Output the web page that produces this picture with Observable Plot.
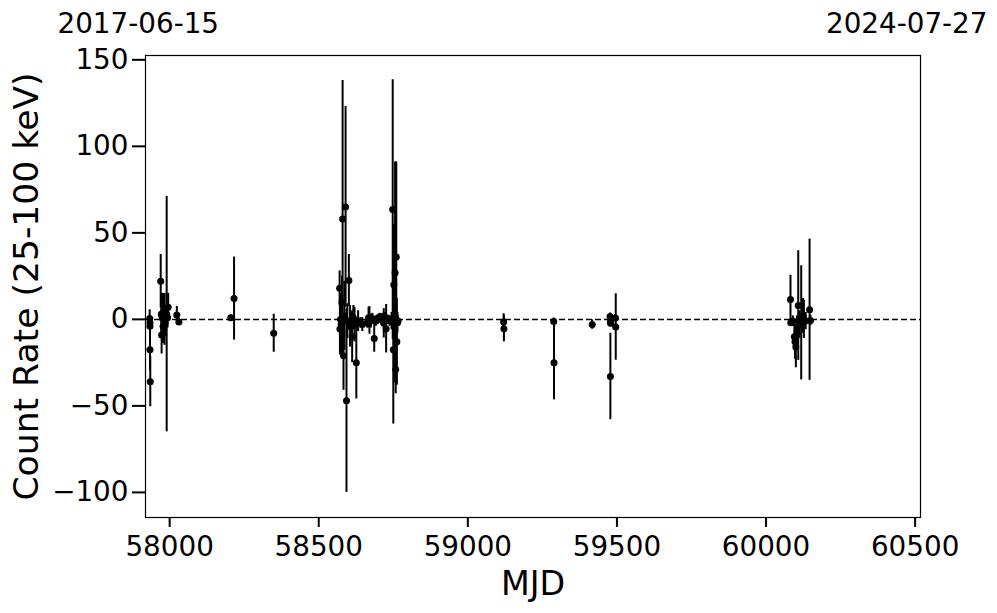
<!DOCTYPE html>
<html>
<head>
<meta charset="utf-8">
<script src="https://cdn.jsdelivr.net/npm/d3@7"></script>
<script src="https://cdn.jsdelivr.net/npm/@observablehq/plot@0.6"></script>
<style>
  html, body { margin: 0; padding: 0; background: white; }
</style>
</head>
<body>
<div id="chart"></div>
<script>
// Observation epochs (MJD), count rate (25-100 keV) and 1-sigma errors
const mjd = [
  57933, 57934, 57934, 57934, 57935,
  57970, 57972, 57973, 57975, 57978, 57980, 57983, 57985, 57990, 57993, 57995,
  58024, 58031, 58205, 58216, 58349,
  58570, 58571, 58573, 58575, 58578, 58580, 58583, 58586, 58590, 58593, 58596, 58601,
  58605, 58608, 58612, 58616, 58620, 58626, 58632, 58640, 58646,
  58662, 58667, 58670, 58675, 58680, 58686, 58692, 58698, 58704, 58708, 58713, 58718, 58722, 58726, 58732, 58738,
  58744, 58748, 58750, 58752, 58754, 58756, 58758, 58760, 58762, 58764, 58766,
  59120, 59121, 59288, 59289, 59417, 59477, 59478, 59479, 59478, 59495, 59496,
  60082, 60083, 60090, 60095, 60097, 60100, 60104, 60108, 60112, 60118, 60124, 60127, 60133, 60146, 60149
];
const rate = [
  0.5, -2, -4, -17.5, -36,
  22, 3, -9, 1, -4, 5, 0, -2, 3, 1, 7,
  2.5, -1.5, 1, 12, -8,
  18, -5.6, 0, -3, 10, 58, -21, 2, 65, -47, -1, 22.5,
  -4, -2, -10, 1, -3, -25, -1, -2, -3,
  -2, 1, -0.6, -1, 0.5, -11, -1, 0.5, 1.5, 0, 1.5, -2.3, 1, -5.4, 0.5, -1,
  -1, 63.5, -17.5, 20, 0, 27, -29, 36, -13, -2, -1,
  -1.5, -5.4, -1.2, -25, -3, 1.7, -1.5, -2.3, -33, 0.8, -4.4,
  11.5, -2, -1, -10, -13, -16, -8, 8, -3, -2, 2, 0, -1, 5.6, -0.6
];
const err = [
  5, 4, 4, 12, 14.5,
  15.5, 12, 11, 14, 10, 10, 15, 8, 68, 6, 8,
  5, 2, 1.5, 24, 11,
  10, 15, 6, 18, 15, 80, 20, 20, 58, 53, 10, 15,
  12, 6, 15, 7, 10, 21, 6, 3, 4,
  3, 6, 8, 4, 3, 8, 3, 2, 2, 2, 2, 8.5, 3, 14, 2, 3,
  5, 75, 43, 35, 25, 64, 14, 55, 25, 6, 3,
  4.8, 7.6, 2, 21.5, 2.7, 2, 2, 2, 25, 2, 19.2,
  14, 2, 3, 8, 10, 12, 10, 31.7, 8, 33, 10, 11, 5, 40.8, 3
];
const xTicks = [58000, 58500, 59000, 59500, 60000, 60500];
const yTicks = [-100, -50, 0, 50, 100, 150];
const dateLabels = ["2017-06-15", "2024-07-27"];
const xDomain = [57919, 60518];
const yDomain = [-114.5, 152.5];
const xLabel = "MJD";
const yLabel = "Count Rate (25-100 keV)";

const data = mjd.map((m, i) => ({mjd: m, rate: rate[i], err: err[i]}));

const chart = Plot.plot({
  width: 997,
  height: 613,
  marginLeft: 145,
  marginRight: 77,
  marginTop: 55,
  marginBottom: 96,
  style: {fontFamily: "DejaVu Sans", fontSize: "27.8px", background: "white", color: "black", overflow: "visible"},
  x: {domain: xDomain},
  y: {domain: yDomain},
  marks: [
    Plot.frame({stroke: "black", strokeWidth: 1.2}),
    Plot.ruleY([0], {stroke: "black", strokeWidth: 1.5, strokeDasharray: "6,3"}),
    Plot.ruleX(data, {x: "mjd", y1: d => d.rate - d.err, y2: d => d.rate + d.err, stroke: "black", strokeWidth: 2}),
    Plot.dot(data, {x: "mjd", y: "rate", r: 3.5, fill: "black", stroke: "none"}),
    Plot.axisX({ticks: xTicks, tickFormat: "d", tickSize: 10, tickPadding: 9, strokeWidth: 2, label: null, fontSize: 27.8}),
    Plot.axisY({ticks: yTicks, tickSize: 13, tickPadding: 4, strokeWidth: 2, label: null, fontSize: 27.8}),
    Plot.axisY({ticks: [], label: yLabel, labelAnchor: "center", labelArrow: "none", labelOffset: 132, fontSize: 34.6}),
    Plot.text([xLabel], {frameAnchor: "bottom", dy: 67, fontSize: 33.3, lineAnchor: "middle"}),
    Plot.text([dateLabels[0]], {x: xDomain[0], frameAnchor: "top", dy: -42, dx: -88, textAnchor: "start", fontSize: 27.8}),
    Plot.text([dateLabels[1]], {x: xDomain[1], frameAnchor: "top", dy: -42, dx: 67, textAnchor: "end", fontSize: 27.8})
  ]
});
document.getElementById("chart").appendChild(chart);
</script>
</body>
</html>
